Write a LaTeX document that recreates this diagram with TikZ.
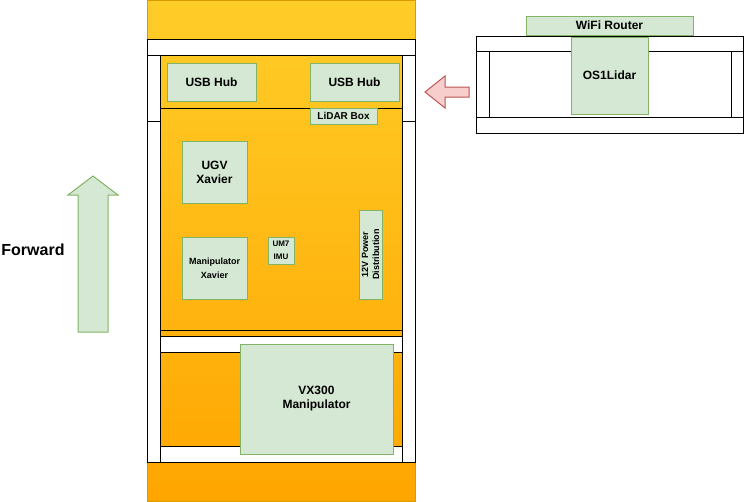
\documentclass[tikz,border=0pt]{standalone}
\usepackage{fontspec}
\setmainfont{Liberation Sans}
\usepackage{xcolor}
\usepackage{tikz}
\definecolor{hullTop}{HTML}{FFCD28}
\definecolor{hullBot}{HTML}{FFA500}
\definecolor{hullLine}{HTML}{D79B00}
\definecolor{partFill}{HTML}{D5E8D4}
\definecolor{partLine}{HTML}{82B366}
\definecolor{backFill}{HTML}{F8CECC}
\definecolor{backLine}{HTML}{B85450}
\tikzset{
  hull/.style={top color=hullTop,bottom color=hullBot,draw=hullLine,line width=1pt},
  rail/.style={draw=black,fill=white,line width=1pt},
  bay/.style={draw=black,line width=1pt},
  part/.style={draw=partLine,fill=partFill,line width=1pt,inner sep=0pt,align=center,font=\bfseries\fontsize{12}{14}\selectfont},
  smalltxt/.style={font=\bfseries\fontsize{9}{14}\selectfont},
  fwd/.style={draw=partLine,fill=partFill,line width=1pt,line join=miter},
  back/.style={draw=backLine,fill=backFill,line width=1pt,line join=miter}
}

\begin{document}
\begin{tikzpicture}[x=1pt,y=-1pt]
\useasboundingbox (0,0) rectangle (744,501);
% chassis
\draw[hull] (147,0) rectangle (415,501);
\draw[bay] (160,55) rectangle (402,108);
\draw[bay] (160,108) rectangle (402,330);
\draw[bay] (160,352) rectangle (402,446);
\draw[rail] (147,39) rectangle (415,55);
\draw[rail] (147,55) rectangle (160,121); \draw[rail] (147,121) rectangle (160,462);
\draw[rail] (402,55) rectangle (415,121); \draw[rail] (402,121) rectangle (415,462);
\draw[rail] (160,336) rectangle (402,352);
\draw[rail] (160,446) rectangle (402,462);
% parts on the chassis
\node[part,minimum width=89pt,minimum height=38pt] (hubL) at (211.5,82) {USB Hub};
\node[part,minimum width=89pt,minimum height=38pt] (hubR) at (354.5,82) {USB Hub};
\node[part,minimum width=67pt,minimum height=16pt,font=\bfseries\fontsize{10}{12}\selectfont] (lidarBox) at (343.5,116) {LiDAR Box};
\node[part,minimum width=65pt,minimum height=62pt] (ugv) at (214.5,172) {UGV\\Xavier};
\node[part,smalltxt,minimum width=65pt,minimum height=62pt] (manipX) at (214.5,268) {Manipulator\\Xavier};
\node[part,minimum width=26pt,minimum height=27pt,font=\bfseries\fontsize{8}{13}\selectfont] (imu) at (281,250.5) {UM7\\IMU};
\node[part,rotate=90,minimum width=89pt,minimum height=23pt,font=\bfseries\fontsize{9}{11}\selectfont] (power) at (370.5,254.5) {12V Power\\Distribution};
\node[part,minimum width=153pt,minimum height=110pt] (vx300) at (316.5,399) {VX300\\Manipulator};
% lidar mount
\draw[rail] (476,36) rectangle (743,133);
\draw[rail] (476,36) rectangle (743,51);
\draw[rail] (476,117) rectangle (743,133);
\draw[rail] (476,51) rectangle (489,117);
\draw[rail] (731,51) rectangle (743,117);
\node[part,minimum width=167pt,minimum height=19pt] (router) at (609.5,25.5) {WiFi Router};
\node[part,minimum width=77pt,minimum height=77pt] (os1) at (609.5,75.5) {OS1Lidar};
% arrows
\draw[back] (469,87) -- (445,87) -- (445,76) -- (425,92) -- (445,108) -- (445,97) -- (469,97) -- cycle;
\draw[fwd] (78,332) -- (78,195) -- (68,195) -- (93,176) -- (118,195) -- (108,195) -- (108,332) -- cycle;
\node[font=\bfseries\fontsize{16}{19}\selectfont] (fwdLabel) at (33,250) {Forward};
\end{tikzpicture}
\end{document}
